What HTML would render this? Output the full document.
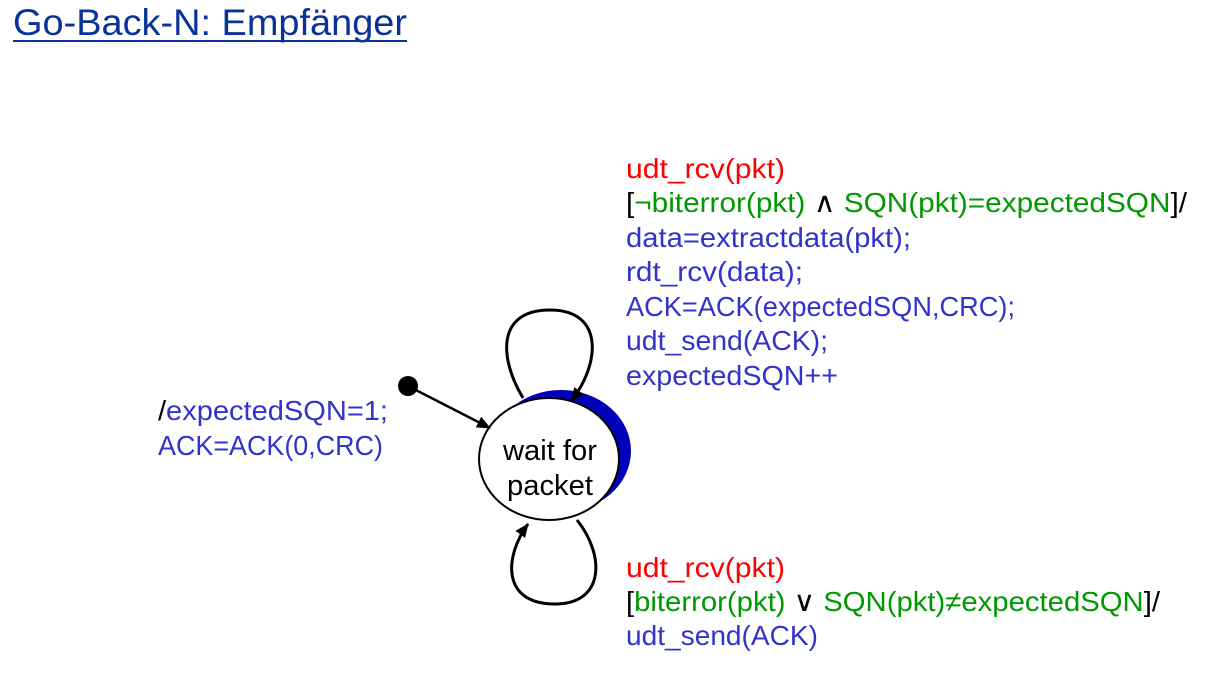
<!DOCTYPE html>
<html><head><meta charset="utf-8"><style>
html,body{margin:0;padding:0;background:#fff;}
svg{display:block;}
text{font-family:"Liberation Sans",Verdana,sans-serif;}
</style></head><body>
<svg width="1217" height="682" viewBox="0 0 1217 682" xmlns="http://www.w3.org/2000/svg">
<defs>
<marker id="ah" markerWidth="14" markerHeight="14" refX="13" refY="7" orient="auto" markerUnits="userSpaceOnUse">
<path d="M0,1 L14,7 L0,13 Z" fill="#000"/>
</marker>
</defs>
<text x="13" y="35" font-size="37" fill="#0a3399" textLength="394" lengthAdjust="spacingAndGlyphs">Go-Back-N: Empfänger</text>
<rect x="13" y="40" width="394" height="2" fill="#0a3399"/>

<ellipse cx="561" cy="451" rx="70" ry="61" fill="#0000bb"/>
<ellipse cx="549" cy="459" rx="70" ry="61" fill="#fff" stroke="#000" stroke-width="2"/>
<text x="550" y="460" font-size="29" text-anchor="middle" fill="#000" textLength="94" lengthAdjust="spacingAndGlyphs">wait for</text>
<text x="550" y="495" font-size="29" text-anchor="middle" fill="#000" textLength="86" lengthAdjust="spacingAndGlyphs">packet</text>

<path d="M523,398 C500,360 495,310 550,310 C605,310 600,365 571,401" fill="none" stroke="#000" stroke-width="3" marker-end="url(#ah)"/>
<path d="M577,520 C605,555 605,604 555,604 C500,604 505,555 528,524" fill="none" stroke="#000" stroke-width="3" marker-end="url(#ah)"/>
<circle cx="408" cy="386" r="10" fill="#000"/>
<line x1="408" y1="386" x2="490" y2="428" stroke="#000" stroke-width="2.5" marker-end="url(#ah)"/>

<g font-size="28" lengthAdjust="spacingAndGlyphs">
<text x="626" y="178" fill="#ff0000" textLength="159" lengthAdjust="spacingAndGlyphs">udt_rcv(pkt)</text>
<text x="626" y="212" textLength="561" lengthAdjust="spacingAndGlyphs"><tspan fill="#000">[</tspan><tspan fill="#009900">¬biterror(pkt) </tspan><tspan fill="#000">∧</tspan><tspan fill="#009900"> SQN(pkt)=expectedSQN</tspan><tspan fill="#000">]/</tspan></text>
<text x="626" y="247" fill="#3333cc" textLength="285" lengthAdjust="spacingAndGlyphs">data=extractdata(pkt);</text>
<text x="626" y="281" fill="#3333cc" textLength="177" lengthAdjust="spacingAndGlyphs">rdt_rcv(data);</text>
<text x="626" y="316" fill="#3333cc" textLength="389" lengthAdjust="spacingAndGlyphs">ACK=ACK(expectedSQN,CRC);</text>
<text x="626" y="350" fill="#3333cc" textLength="202" lengthAdjust="spacingAndGlyphs">udt_send(ACK);</text>
<text x="626" y="385" fill="#3333cc" textLength="212" lengthAdjust="spacingAndGlyphs">expectedSQN++</text>

<text x="626" y="577" fill="#ff0000" textLength="159" lengthAdjust="spacingAndGlyphs">udt_rcv(pkt)</text>
<text x="626" y="611" textLength="534" lengthAdjust="spacingAndGlyphs"><tspan fill="#000">[</tspan><tspan fill="#009900">biterror(pkt) </tspan><tspan fill="#000">∨</tspan><tspan fill="#009900"> SQN(pkt)≠expectedSQN</tspan><tspan fill="#000">]/</tspan></text>
<text x="626" y="645" fill="#3333cc" textLength="192" lengthAdjust="spacingAndGlyphs">udt_send(ACK)</text>

<text x="158" y="420" textLength="230" lengthAdjust="spacingAndGlyphs"><tspan fill="#000">/</tspan><tspan fill="#3333cc">expectedSQN=1;</tspan></text>
<text x="158" y="455" fill="#3333cc" textLength="225" lengthAdjust="spacingAndGlyphs">ACK=ACK(0,CRC)</text>
</g>
</svg>
</body></html>
